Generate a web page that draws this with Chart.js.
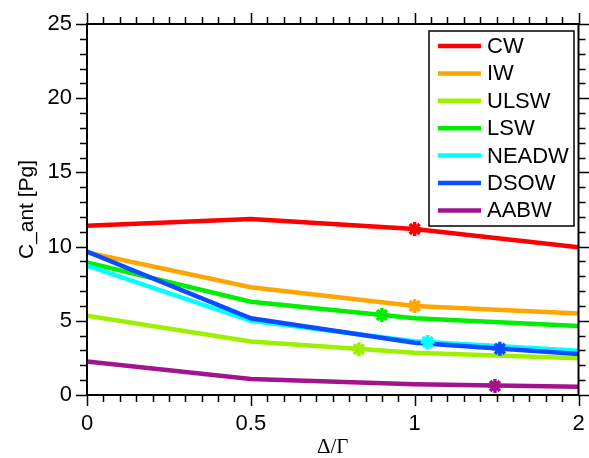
<!DOCTYPE html>
<html>
<head>
<meta charset="utf-8">
<script src="https://cdn.jsdelivr.net/npm/chart.js@4.4.1/dist/chart.umd.min.js"></script>
<style>
html,body{margin:0;padding:0;background:#fff;}
#wrap{width:589px;height:458px;position:relative;}
</style>
</head>
<body>
<div id="wrap"><canvas id="c" width="589" height="458"></canvas></div>
<script>
// x categories (plotted at equally spaced positions 0..3)
const xLabels = ['0', '0.5', '1', '2'];
const xPos = [0, 1, 2, 3];
const yTicks = [0, 5, 10, 15, 20, 25];

const seriesNames = ['CW', 'IW', 'ULSW', 'LSW', 'NEADW', 'DSOW', 'AABW'];
const seriesColors = ['#ff0000', '#ffa500', '#9cf000', '#00ee00', '#00ffff', '#0a4cff', '#a2148f'];

const CW    = [11.41, 11.86, 11.19, 9.95];
const IW    = [9.60, 7.26, 6.00, 5.50];
const ULSW  = [5.35, 3.60, 2.85, 2.47];
const LSW   = [8.94, 6.29, 5.17, 4.65];
const NEADW = [8.71, 5.00, 3.62, 2.99];
const DSOW  = [9.66, 5.17, 3.52, 2.76];
const AABW  = [2.25, 1.08, 0.72, 0.56];
const seriesValues = [CW, IW, ULSW, LSW, NEADW, DSOW, AABW];

// star markers: [x position (same scale as xPos), value]
const starX = [2.00, 2.00, 1.66, 1.80, 2.08, 2.52, 2.49];
const starY = [11.19, 6.00, 3.08, 5.39, 3.57, 3.12, 0.61];

const datasets = [];
seriesValues.forEach((vals, i) => {
  datasets.push({
    type: 'line',
    label: seriesNames[i],
    data: vals.map((v, j) => ({x: xPos[j], y: v})),
    borderColor: seriesColors[i],
    backgroundColor: seriesColors[i],
    borderWidth: 4.5,
    pointRadius: 0,
    tension: 0,
    order: 20 - i
  });
});
seriesValues.forEach((vals, i) => {
  datasets.push({
    type: 'scatter',
    label: seriesNames[i] + ' *',
    data: [{x: starX[i], y: starY[i]}],
    borderColor: seriesColors[i],
    backgroundColor: seriesColors[i],
    pointStyle: 'star',
    pointRadius: 7,
    pointBorderWidth: 3.5,
    order: 1
  });
});

const frameTicks = {
  id: 'frameTicks',
  afterDraw(chart) {
    const {ctx, chartArea: a, scales: {x, y}} = chart;
    ctx.save();
    ctx.strokeStyle = '#000';
    ctx.lineWidth = 1.5;
    ctx.beginPath();
    for (let k = 0; k <= 30; k++) {
      const v = k / 10;
      const px = Math.round(x.getPixelForValue(v)) + 0.5;
      const len = (k % 10 === 0) ? 11 : 7;
      ctx.moveTo(px, a.bottom); ctx.lineTo(px, a.bottom + len);
      ctx.moveTo(px, a.top); ctx.lineTo(px, a.top - len);
    }
    for (let v = 0; v <= 25; v++) {
      const py = Math.round(y.getPixelForValue(v)) + 0.5;
      const len = (v % 5 === 0) ? 11 : 7;
      ctx.moveTo(a.left, py); ctx.lineTo(a.left - len, py);
      ctx.moveTo(a.right, py); ctx.lineTo(a.right + len, py);
    }
    ctx.stroke();
    ctx.lineWidth = 2;
    ctx.strokeRect(a.left, a.top, a.right - a.left, a.bottom - a.top);

    // legend box
    const bx = 429, by = 31, bw = 145, bh = 195;
    ctx.fillStyle = '#fff';
    ctx.fillRect(bx, by, bw, bh);
    ctx.lineWidth = 1.5;
    ctx.strokeStyle = '#000';
    ctx.strokeRect(bx, by, bw, bh);
    ctx.font = '22px "Liberation Sans", Arial, sans-serif';
    ctx.textBaseline = 'middle';
    ctx.textAlign = 'left';
    seriesNames.forEach((n, i) => {
      const cy = 46 + i * 27.4;
      ctx.strokeStyle = seriesColors[i];
      ctx.lineWidth = 4.5;
      ctx.beginPath();
      ctx.moveTo(438, cy); ctx.lineTo(481, cy);
      ctx.stroke();
      ctx.fillStyle = '#000';
      ctx.fillText(n, 487, cy + 1);
    });
    ctx.restore();
  }
};

new Chart(document.getElementById('c'), {
  type: 'line',
  data: {datasets},
  options: {
    responsive: false,
    animation: false,
    devicePixelRatio: 1,
    layout: {padding: {top: 24, right: 8, left: 0, bottom: 0}},
    plugins: {legend: {display: false}, tooltip: {enabled: false}},
    scales: {
      x: {
        type: 'linear',
        min: 0, max: 3,
        grid: {display: false, drawTicks: false},
        border: {display: false},
        afterFit(s) { s.height = 63; s.paddingLeft = 0; s.paddingRight = 0; },
        afterBuildTicks(s) { s.ticks = xPos.map(v => ({value: v})); },
        ticks: {
          padding: 16,
          color: '#000',
          font: {family: '"Liberation Sans", Arial, sans-serif', size: 22},
          callback: (v) => xLabels[xPos.indexOf(v)],
          maxRotation: 0, autoSkip: false
        },
        title: {
          display: true, text: 'Δ/Γ', color: '#000',
          font: {family: '"Liberation Serif", "Times New Roman", serif', size: 21, lineHeight: 1},
          padding: {top: 0, bottom: 0}
        }
      },
      y: {
        type: 'linear',
        min: 0, max: 25,
        grid: {display: false, drawTicks: false},
        border: {display: false},
        afterFit(s) { s.width = 87; s.paddingTop = 0; s.paddingBottom = 0; },
        afterBuildTicks(s) { s.ticks = yTicks.map(v => ({value: v})); },
        ticks: {
          padding: 15,
          color: '#000',
          font: {family: '"Liberation Sans", Arial, sans-serif', size: 22}
        },
        title: {
          display: true, text: 'C_ant [Pg]', color: '#000',
          font: {family: '"Liberation Sans", Arial, sans-serif', size: 21, lineHeight: 1.2},
          padding: {top: 15, bottom: 0}
        }
      }
    }
  },
  plugins: [frameTicks]
});
</script>
</body>
</html>
